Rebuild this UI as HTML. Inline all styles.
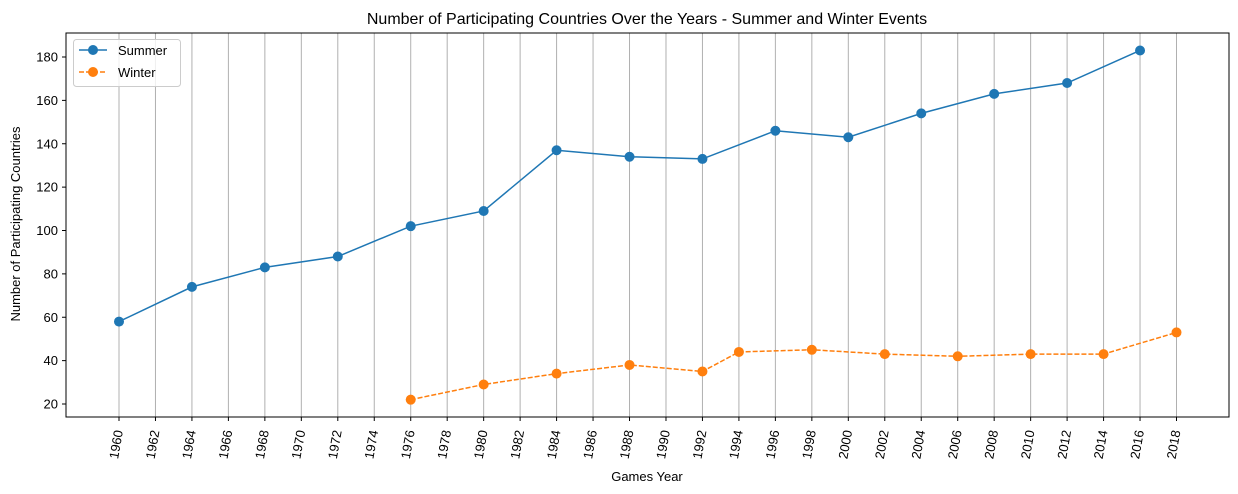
<!DOCTYPE html>
<html><head><meta charset="utf-8"><style>
html,body{margin:0;padding:0;background:#fff;}
svg{display:block;font-family:"Liberation Sans","DejaVu Sans",sans-serif;}
</style></head><body>
<svg id="chart" width="1238" height="494" xmlns="http://www.w3.org/2000/svg">
<rect x="0" y="0" width="1238" height="494" fill="#fff"/>
<g id="grid"></g>
<g id="xticks"></g>
<g id="yticks"></g>
<g id="series"></g>
<rect x="66" y="33" width="1163" height="384" fill="none" stroke="#000" stroke-width="1"/>
<text x="647" y="24" text-anchor="middle" font-size="16">Number of Participating Countries Over the Years - Summer and Winter Events</text>
<text x="647" y="481" text-anchor="middle" font-size="13">Games Year</text>
<text transform="translate(20,224) rotate(-90)" text-anchor="middle" font-size="13">Number of Participating Countries</text>
<g>
<rect x="73.5" y="39.5" width="107" height="47" rx="3" fill="#fff" fill-opacity="0.8" stroke="#ccc"/>
<g>
<line x1="79" y1="50" x2="107" y2="50" stroke="#1f77b4" stroke-width="1.5"/>
<circle cx="93" cy="50" r="5" fill="#1f77b4"/>
<text x="118" y="55" font-size="13">Summer</text></g>
<g>
<line x1="79" y1="72" x2="107" y2="72" stroke="#ff7f0e" stroke-width="1.5" stroke-dasharray="5,2"/>
<circle cx="93" cy="72" r="5" fill="#ff7f0e"/>
<text x="118" y="77" font-size="13">Winter</text></g>
</g>
</svg>
<script>
const xTicks=[1960,1962,1964,1966,1968,1970,1972,1974,1976,1978,1980,1982,1984,1986,1988,1990,1992,1994,1996,1998,2000,2002,2004,2006,2008,2010,2012,2014,2016,2018];
const yTicks=[20,40,60,80,100,120,140,160,180];
const summerYears=[1960,1964,1968,1972,1976,1980,1984,1988,1992,1996,2000,2004,2008,2012,2016];
const summerValues=[58,74,83,88,102,109,137,134,133,146,143,154,163,168,183];
const winterYears=[1976,1980,1984,1988,1992,1994,1998,2002,2006,2010,2014,2018];
const winterValues=[22,29,34,38,35,44,45,43,42,43,43,53];
const NS="http://www.w3.org/2000/svg";
function xs(v){return 119+(v-1960)*(1176.5-119)/58;}
function ys(v){return 404-(v-20)*(404-57)/160;}
function mk(tag,attrs,parent){const e=document.createElementNS(NS,tag);for(const k in attrs)e.setAttribute(k,attrs[k]);parent.appendChild(e);return e;}
const grid=document.getElementById('grid'),xt=document.getElementById('xticks'),yt=document.getElementById('yticks'),ser=document.getElementById('series');
xTicks.forEach(t=>{const x=xs(t);
const g=mk('line',{x1:x,x2:x,y1:33,y2:417,stroke:'#b0b0b0','stroke-width':1},grid);


mk('line',{x1:x,x2:x,y1:417,y2:421,stroke:'#000'},xt);
const tx=mk('text',{transform:`translate(${x+4},${431}) rotate(-80)`,'text-anchor':'end','font-size':13},xt);
tx.textContent=t;


});
yTicks.forEach(t=>{const y=ys(t);
mk('line',{x1:62,x2:66,y1:y,y2:y,stroke:'#000'},yt);
const tx=mk('text',{x:58,y:y+4.5,'text-anchor':'end','font-size':13},yt);
tx.textContent=t;


});
function draw(years,vals,color,dash,name){
const pts=years.map((y,i)=>xs(y)+','+ys(vals[i])).join(' ');
const pl=mk('polyline',{points:pts,fill:'none',stroke:color,'stroke-width':1.5},ser);
if(dash)pl.setAttribute('stroke-dasharray',dash);


years.forEach((y,i)=>{const c=mk('circle',{cx:xs(y),cy:ys(vals[i]),r:5,fill:color},ser);


});
}
draw(summerYears,summerValues,'#1f77b4',null,'summer');
draw(winterYears,winterValues,'#ff7f0e','5,2','winter');
</script>
</body></html>
